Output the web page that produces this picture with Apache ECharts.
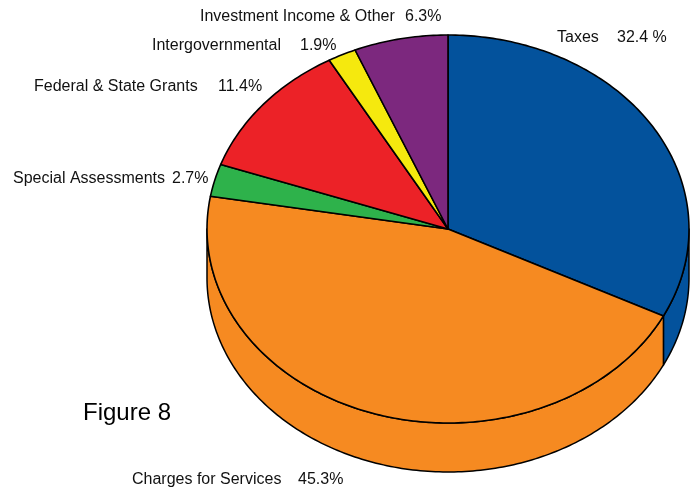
<!DOCTYPE html>
<html>
<head>
<meta charset="utf-8">
<script src="https://cdn.jsdelivr.net/npm/echarts@6/dist/echarts.min.js"></script>
<style>
  html, body { margin: 0; padding: 0; background: #ffffff; }
  #chart { width: 699px; height: 488px; }
</style>
</head>
<body>
<div id="chart"></div>
<script>
// Revenue sources and their shares (percent)
const categories = ['Taxes', 'Charges for Services', 'Special Assessments',
  'Federal & State Grants', 'Intergovernmental', 'Investment Income & Other'];
const shares = [32.4, 45.3, 2.7, 11.4, 1.9, 6.3];
const valueSuffix = [' %', '%', '%', '%', '%', '%'];
const sliceColors = ['#03529c', '#f68a21', '#2eb24b', '#ec2227', '#f5e90e', '#7c287e'];
const figureTitle = 'Figure 8';

// Geometry of the tilted pie
const CX = 448, CY = 229, RX = 241, RY = 194, DEPTH = 49;
const SQUASH = RY / RX;
const FONT = '"Liberation Sans", Arial, Helvetica, sans-serif';

// Label placement: [name x, value x, y]
const labelLayout = [
  [557, 617, 38],
  [132, 298, 480],
  [13, 172, 179],
  [34, 218, 87],
  [152, 300, 46],
  [200, 405, 17]
];

// Cumulative start / end of each slice on the 0..100 angle axis
const sliceData = [];
let acc = 0;
shares.forEach(function (v, i) {
  sliceData.push({ value: [1, acc, acc + v], name: categories[i] });
  acc += v;
});

function ellipsePoint(api, a, drop) {
  const p = api.coord([1, a]);
  const c = api.coord([0, a]);
  return [p[0], c[1] + (p[1] - c[1]) * SQUASH + (drop || 0)];
}

function arcPoints(api, a0, a1, drop) {
  const n = Math.max(2, Math.ceil((a1 - a0) * 4));
  const pts = [];
  for (let k = 0; k <= n; k++) {
    pts.push(ellipsePoint(api, a0 + (a1 - a0) * k / n, drop));
  }
  return pts;
}

// Side wall of slices that face the viewer (angle range 25..75)
function renderSide(params, api) {
  const i = params.dataIndex;
  const s0 = Math.max(api.value(1), 25);
  const s1 = Math.min(api.value(2), 75);
  if (s0 >= s1) return { type: 'group', children: [] };
  const top = arcPoints(api, s0, s1, 0);
  const bottom = arcPoints(api, s0, s1, DEPTH).reverse();
  return {
    type: 'polygon',
    shape: { points: top.concat(bottom) },
    style: { fill: sliceColors[i], stroke: '#000', lineWidth: 1.5, lineJoin: 'round' }
  };
}

// Top face of each slice
function renderTop(params, api) {
  const i = params.dataIndex;
  const center = api.coord([0, 0]);
  const arc = arcPoints(api, api.value(1), api.value(2), 0);
  return {
    type: 'polygon',
    shape: { points: [center].concat(arc) },
    style: { fill: sliceColors[i], stroke: '#000', lineWidth: 1.6, lineJoin: 'round' }
  };
}

const textElements = [];
categories.forEach(function (name, i) {
  const lay = labelLayout[i];
  textElements.push({
    type: 'text', x: lay[0], y: lay[2], silent: true,
    style: { text: name, fill: '#111', font: '16px ' + FONT, align: 'left', verticalAlign: 'middle' }
  });
  textElements.push({
    type: 'text', x: lay[1], y: lay[2], silent: true,
    style: { text: shares[i].toFixed(1) + valueSuffix[i], fill: '#111', font: '16px ' + FONT, align: 'left', verticalAlign: 'middle' }
  });
});
textElements.push({
  type: 'text', x: 83, y: 413, silent: true,
  style: { text: figureTitle, fill: '#000', font: '24px ' + FONT, align: 'left', verticalAlign: 'middle' }
});

const chart = echarts.init(document.getElementById('chart'), null, { renderer: 'canvas' });
chart.setOption({
  animation: false,
  backgroundColor: '#ffffff',
  polar: { center: [CX, CY], radius: RX },
  angleAxis: { type: 'value', min: 0, max: 100, startAngle: 90, clockwise: true, show: false },
  radiusAxis: { type: 'value', min: 0, max: 1, show: false },
  series: [
    { type: 'custom', coordinateSystem: 'polar', renderItem: renderSide, data: sliceData, z: 1, silent: true },
    { type: 'custom', coordinateSystem: 'polar', renderItem: renderTop, data: sliceData, z: 2, silent: true }
  ],
  graphic: { elements: textElements }
});
</script>
</body>
</html>
